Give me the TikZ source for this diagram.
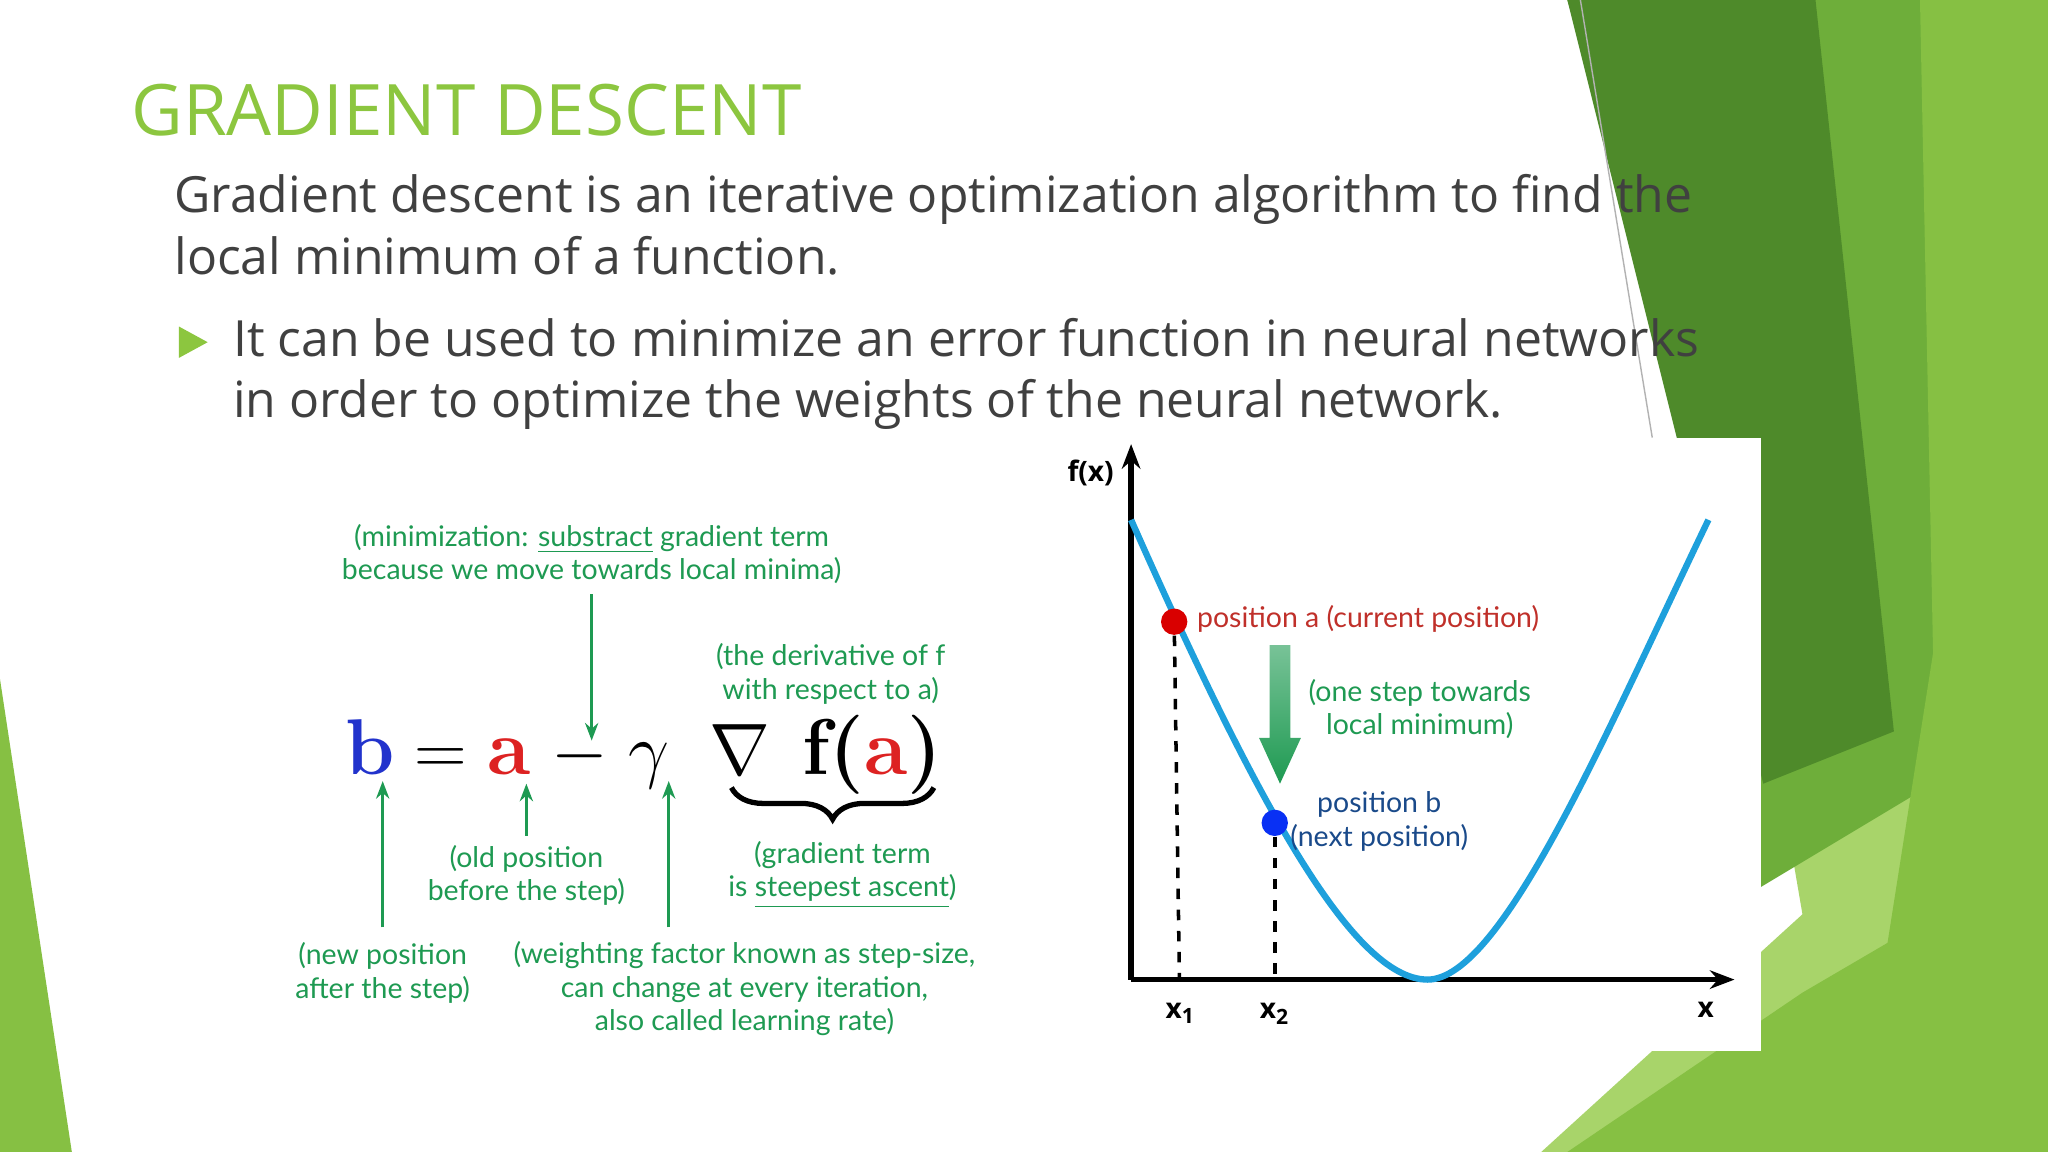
\documentclass[tikz,border=0pt]{standalone}
\usepackage{fontspec}
\setmainfont{Open Sans}
\newfontfamily\annfont{Lato}
\newfontfamily\lmr{Latin Modern Roman}
\usetikzlibrary{arrows.meta,decorations.pathreplacing}
\definecolor{ttl}{HTML}{8CC63F}
\definecolor{body}{HTML}{404040}
\definecolor{gA}{HTML}{4E8A2A}
\definecolor{gB}{HTML}{6EAE3A}
\definecolor{gC}{HTML}{A8D46A}
\definecolor{gD}{HTML}{86C043}
\definecolor{ann}{HTML}{1E9A52}
\definecolor{crv}{HTML}{1EA0DC}
\definecolor{rlab}{HTML}{C0302A}
\definecolor{blab}{HTML}{1A4A8A}
\definecolor{fb}{HTML}{2233CC}
\definecolor{fr}{HTML}{DD2222}
\tikzset{
  ann/.style={text=ann,font=\annfont\fontsize{8.1}{9.5}\selectfont,align=center,inner sep=0pt},
  garrow/.style={draw=ann,line width=1pt,-{Stealth[length=5pt]}},
  bodytext/.style={text=body,font=\fontsize{14.2}{17.5}\selectfont,anchor=north west,align=left,inner sep=0pt},
}
\begin{document}
\begin{tikzpicture}[x=0.013061cm,y=-0.013061cm]
\useasboundingbox (0,0) rectangle (1568,882);
\fill[white] (0,0) rectangle (1568,882);
% decorations
\fill[gC] (1260,0) -- (1568,0) -- (1568,882) -- (1180,882) -- (1380,700) -- cycle;
\fill[gB] (1200,0) -- (1500,0) -- (1480,600) -- (1330,690) -- (1290,300) -- cycle;
\fill[gA] (1200,0) -- (1390,0) -- (1450,560) -- (1350,600) -- cycle;
\fill[gD] (1470,0) -- (1568,0) -- (1568,882) -- (1420,882) -- (1480,500) -- cycle;
\fill[gD] (1200,882) -- (1380,760) -- (1568,650) -- (1568,882) -- cycle;
\fill[gD] (0,520) -- (55,882) -- (0,882) -- cycle;
\draw[gray!60,line width=0.4pt] (1210,0) -- (1265,335);
% title and text
\node[text=ttl,font=\fontsize{20.2}{24}\selectfont,anchor=west,inner sep=0pt] (title) at (100,84) {GRADIENT DESCENT};
\node[bodytext] (p1) at (133,133) {Gradient descent is an iterative optimization algorithm to find the\\local minimum of a function.};
\fill[ttl] (137,250) -- (159,262) -- (137,274) -- cycle;
\node[bodytext] (p2) at (178,243) {It can be used to minimize an error function in neural networks\\in order to optimize the weights of the neural network.};
% formula
\node[font=\lmr\fontsize{22.5}{22.5}\selectfont,inner sep=0pt] (eq) at (493,578) {{\bfseries\color{fb}b}$\;=\;${\bfseries\color{fr}a}$\;-\;\gamma\;\;\nabla\;\,${\bfseries f(\color{fr}a\color{black})}};
\node[ann] (m1) at (453,424) {(minimization: \underline{substract} gradient term\\because we move towards local minima)};
\node[ann] (m2) at (636,516) {(the derivative of f\\with respect to a)};
\node[ann] (m3) at (403,670) {(old position\\before the step)};
\node[ann] (m4) at (645,670) {(gradient term\\is \underline{steepest ascent})};
\node[ann] (m5) at (293,745) {(new position\\after the step)};
\node[ann] (m6) at (570,757) {(weighting factor known as step-size,\\can change at every iteration,\\also called learning rate)};
\coordinate (d1) at (453,455); \coordinate (d2) at (453,567);
\draw[garrow] (d1) -- (d2);
\coordinate (u1a) at (293,710); \coordinate (u1b) at (293,598);
\coordinate (u2a) at (403,640); \coordinate (u2b) at (403,600);
\coordinate (u3a) at (512,710); \coordinate (u3b) at (512,598);
\draw[garrow] (u1a) -- (u1b);
\draw[garrow] (u2a) -- (u2b);
\draw[garrow] (u3a) -- (u3b);
\coordinate (br1) at (715,603); \coordinate (br2) at (560,603);
\draw[ann,line width=1.5pt,decorate,decoration={brace,amplitude=9pt}] (br1) -- (br2);
% chart
\fill[white] (805,335) rectangle (1348,805);
\coordinate (O) at (866,750);
\coordinate (ytop) at (866,340);
\coordinate (xend) at (1328,750);
\draw[line width=1.6pt,-{Stealth[length=7pt]}] (O) -- (ytop);
\draw[line width=1.6pt,-{Stealth[length=7pt]}] (O) -- (xend);
\draw[crv,line width=1.8pt] (866,398) .. controls (960,610) and (1035,750) .. (1093,750) .. controls (1150,750) and (1230,560) .. (1308,398);
\node[circle,fill=red!85!black,inner sep=0pt,minimum size=7.5pt] (pa) at (899,476) {};
\node[circle,fill=blue!70!crv,inner sep=0pt,minimum size=7.5pt] (pb) at (976,630) {};
\coordinate (x1) at (903,750); \coordinate (x2) at (976,750);
\draw[dashed,line width=1pt] (pa) -- (x1);
\draw[dashed,line width=1pt] (pb) -- (x2);
\node[font=\bfseries\fontsize{8}{8}\selectfont,inner sep=0pt] (fx) at (835,362) {f(x)};
\node[font=\bfseries\fontsize{8}{8}\selectfont,inner sep=0pt] (lx1) at (904,776) {x$_\mathbf{1}$};
\node[font=\bfseries\fontsize{8}{8}\selectfont,inner sep=0pt] (lx2) at (976,776) {x$_\mathbf{2}$};
\node[font=\bfseries\fontsize{8}{8}\selectfont,inner sep=0pt] (lx) at (1306,773) {x};
\node[text=rlab,font=\annfont\fontsize{8.1}{9.5}\selectfont,anchor=west,inner sep=0pt] (la) at (916,474) {position a (current position)};
\node[ann] (ls) at (1087,543) {(one step towards\\local minimum)};
\node[text=blab,font=\annfont\fontsize{8.1}{9.5}\selectfont,align=center,inner sep=0pt] (lb) at (1056,629) {position b\\(next position)};
\shade[top color=ann!60!white,bottom color=ann] (972,494) -- (988,494) -- (988,565) -- (996,565) -- (980,600) -- (964,565) -- (972,565) -- cycle;
\end{tikzpicture}
\end{document}
